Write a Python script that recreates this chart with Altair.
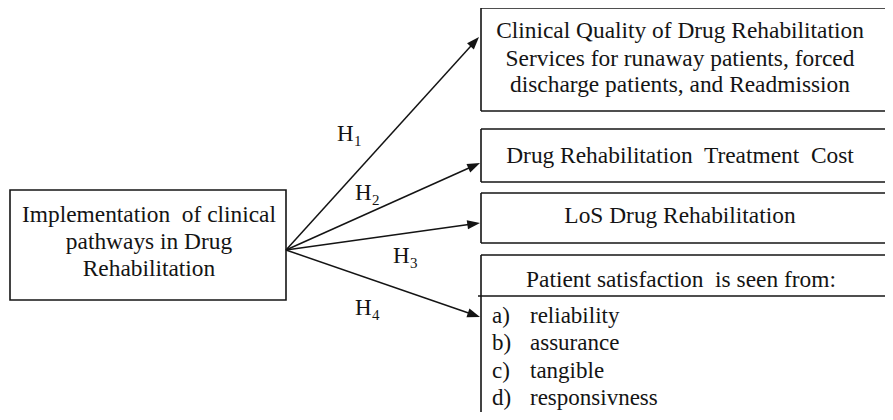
import altair as alt
import pandas as pd
import numpy as np

# ---- diagram content (positions in picture pixels) ----
source_box = {"x0": 10, "x1": 286, "y0": 190, "y1": 300}

target_names = ["quality", "cost", "los", "satisfaction"]
target_left = [481, 481, 481, 481]
target_right = [905, 905, 905, 905]   # runs past the right edge of the picture
target_top = [8, 129, 193, 255]
target_bottom = [111, 182, 243, 440]  # last one runs past the bottom edge

divider_x = [478, 905]
divider_y = [296, 296]

arrow_origin = [286, 250]
arrow_tip_x = [479, 480, 480, 480]
arrow_tip_y = [37, 163, 223, 317]

hyp_index = ["1", "2", "3", "4"]
hyp_x = [337, 355, 393, 355]
hyp_y = [141, 200, 263, 315]

center_lines = [
    "Implementation\u00a0 of clinical",
    "pathways in Drug",
    "Rehabilitation",
    "Clinical Quality of Drug Rehabilitation",
    "Services for runaway patients, forced",
    "discharge patients, and Readmission",
    "Drug Rehabilitation\u00a0 Treatment\u00a0 Cost",
    "LoS Drug Rehabilitation",
    "Patient satisfaction\u00a0 is seen from:",
]
center_x = [149, 149, 149, 680, 680, 680, 680, 680, 681]
center_y = [222, 249, 276, 38, 66, 92, 163, 223, 287]

list_markers = ["a)", "b)", "c)", "d)"]
list_items = ["reliability", "assurance", "tangible", "responsivness"]
list_marker_x = 492
list_item_x = 530
list_y = [323, 350, 378, 405]

FONT = "Liberation Serif"
INK = "#141414"

xs = alt.Scale(domain=[8, 885], nice=False, zero=False)
ys = alt.Scale(domain=[8, 412], nice=False, zero=False, reverse=True)

# source box as a full rectangle
src = pd.DataFrame([source_box])
src_layer = alt.Chart(src).mark_rect(
    fill="white", stroke=INK, strokeWidth=1.6
).encode(
    x=alt.X("x0:Q", scale=xs, axis=None), x2="x1:Q",
    y=alt.Y("y0:Q", scale=ys, axis=None), y2="y1:Q",
)

# target boxes: top, bottom and left edges (right side is cut off by the picture)
segs = []
for l, r, t, b in zip(target_left, target_right, target_top, target_bottom):
    segs.append({"x0": l, "x1": r, "y0": t, "y1": t})
    segs.append({"x0": l, "x1": r, "y0": b, "y1": b})
    segs.append({"x0": l, "x1": l, "y0": t, "y1": b})
segs.append({"x0": divider_x[0], "x1": divider_x[1], "y0": divider_y[0], "y1": divider_y[1]})
seg_df = pd.DataFrame(segs)
edge_layer = alt.Chart(seg_df).mark_rule(
    color=INK, strokeWidth=1.6, clip=True
).encode(
    x=alt.X("x0:Q", scale=xs, axis=None), x2="x1:Q",
    y=alt.Y("y0:Q", scale=ys, axis=None), y2="y1:Q",
)

tx = np.array(arrow_tip_x, dtype=float)
ty = np.array(arrow_tip_y, dtype=float)
dx = tx - arrow_origin[0]
dy = ty - arrow_origin[1]
ln = np.hypot(dx, dy)
arrows = pd.DataFrame({
    "x0": arrow_origin[0], "y0": arrow_origin[1],
    "x1": tx - dx / ln * 6, "y1": ty - dy / ln * 6,
    "tx": tx, "ty": ty,
    "angle": np.degrees(np.arctan2(dy, dx)) % 360,
})
line_layer = alt.Chart(arrows).mark_rule(color=INK, strokeWidth=1.5).encode(
    x=alt.X("x0:Q", scale=xs, axis=None), x2="x1:Q",
    y=alt.Y("y0:Q", scale=ys, axis=None), y2="y1:Q",
)
head_layer = alt.Chart(arrows).mark_point(
    shape="M0,0L-1,-0.36L-1,0.36Z", filled=True, color=INK, opacity=1,
    size=650, strokeWidth=0
).encode(
    x=alt.X("tx:Q", scale=xs, axis=None),
    y=alt.Y("ty:Q", scale=ys, axis=None),
    angle=alt.Angle("angle:Q", scale=None),
)

hyp = pd.DataFrame({"i": hyp_index, "x": hyp_x, "y": hyp_y})
hyp["xs"] = hyp["x"] + 17
hyp["ys"] = hyp["y"] + 5
hyp["H"] = "H"
h_layer = alt.Chart(hyp).mark_text(
    font=FONT, fontSize=23, align="left", baseline="alphabetic", color=INK
).encode(
    x=alt.X("x:Q", scale=xs, axis=None), y=alt.Y("y:Q", scale=ys, axis=None), text="H:N"
)
sub_layer = alt.Chart(hyp).mark_text(
    font=FONT, fontSize=15, align="left", baseline="alphabetic", color=INK
).encode(
    x=alt.X("xs:Q", scale=xs, axis=None), y=alt.Y("ys:Q", scale=ys, axis=None), text="i:N"
)

ctext = pd.DataFrame({"t": center_lines, "x": center_x, "y": center_y})
ctext_layer = alt.Chart(ctext).mark_text(
    font=FONT, fontSize=23.4, align="center", baseline="alphabetic", color=INK
).encode(
    x=alt.X("x:Q", scale=xs, axis=None), y=alt.Y("y:Q", scale=ys, axis=None), text="t:N"
)

lst = pd.DataFrame({"m": list_markers, "item": list_items, "y": list_y})
lst["mx"] = list_marker_x
lst["ix"] = list_item_x
marker_layer = alt.Chart(lst).mark_text(
    font=FONT, fontSize=23, align="left", baseline="alphabetic", color=INK
).encode(
    x=alt.X("mx:Q", scale=xs, axis=None), y=alt.Y("y:Q", scale=ys, axis=None), text="m:N"
)
item_layer = alt.Chart(lst).mark_text(
    font=FONT, fontSize=23, align="left", baseline="alphabetic", color=INK
).encode(
    x=alt.X("ix:Q", scale=xs, axis=None), y=alt.Y("y:Q", scale=ys, axis=None), text="item:N"
)

chart = alt.layer(
    src_layer, edge_layer, line_layer, head_layer,
    h_layer, sub_layer, ctext_layer, marker_layer, item_layer
).properties(
    width=877, height=404, padding=0, background="white"
).configure_view(strokeWidth=0, strokeOpacity=0)

chart.save("out.html", embed_options={"renderer": "svg", "actions": False})
